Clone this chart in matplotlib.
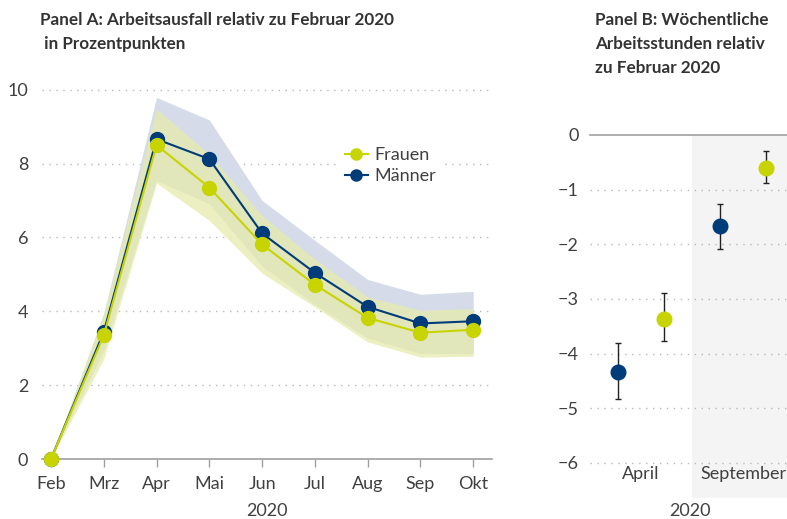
import matplotlib
matplotlib.use("Agg")
import matplotlib.pyplot as plt
import numpy as np

plt.rcParams['font.family'] = ['Lato', 'DejaVu Sans']

# Panel A data
months = ['Feb', 'Mrz', 'Apr', 'Mai', 'Jun', 'Jul', 'Aug', 'Sep', 'Okt']
frauen = [0.0, 3.35, 8.50, 7.35, 5.81, 4.72, 3.82, 3.42, 3.50]
frauen_lo = [0.0, 2.71, 7.47, 6.46, 5.03, 4.12, 3.17, 2.76, 2.78]
frauen_hi = [0.0, 3.95, 9.48, 8.25, 6.59, 5.41, 4.39, 4.03, 4.07]
maenner = [0.0, 3.44, 8.66, 8.12, 6.11, 5.04, 4.12, 3.67, 3.73]
maenner_lo = [0.0, 2.94, 7.53, 6.91, 5.22, 4.18, 3.27, 2.86, 2.85]
maenner_hi = [0.0, 3.94, 9.79, 9.18, 7.00, 5.92, 4.86, 4.46, 4.54]

# Panel B data
groups = ['April', 'September']
b_maenner = [-4.33, -1.66]
b_maenner_lo = [-4.83, -2.09]
b_maenner_hi = [-3.81, -1.26]
b_frauen = [-3.37, -0.61]
b_frauen_lo = [-3.76, -0.88]
b_frauen_hi = [-2.90, -0.29]

YEL = '#c8d400'
NAVY = '#003b7a'
TXT = '#404040'
GRID = '#b8b8b8'
FS = 13
TFS = 12.3

fig = plt.figure(figsize=(7.87, 5.19), dpi=100)

# ---------- Panel A ----------
ax = fig.add_axes([0.0534, 0.1156, 0.572, 0.733])
x = np.arange(len(months))
ax.fill_between(x, maenner_lo, maenner_hi, color='#d5dbe8', lw=0, zorder=1)
ax.fill_between(x, frauen_lo, frauen_hi, color='#e6ecab', alpha=0.75, lw=0, zorder=2)
ax.plot(x, maenner, '-o', color=NAVY, lw=1.5, ms=10, label='Männer', zorder=4, clip_on=False)
ax.plot(x, frauen, '-o', color=YEL, lw=1.5, ms=10, label='Frauen', zorder=5, clip_on=False)

ax.set_xlim(-0.17, 8.36)
ax.set_ylim(0, 10.3)
ax.set_yticks([0, 2, 4, 6, 8, 10])
ax.set_xticks(x)
ax.set_xticklabels(months)
for s in ['top', 'right', 'left']:
    ax.spines[s].set_visible(False)
ax.spines['bottom'].set_color('#a0a0a0')
ax.spines['bottom'].set_linewidth(1.2)
ax.tick_params(axis='x', length=6, color='#a0a0a0', width=1, pad=6, labelsize=FS, labelcolor=TXT)
ax.tick_params(axis='y', length=0, pad=10, labelsize=FS, labelcolor=TXT)
for v in [2, 4, 6, 8, 10]:
    ax.axhline(v, color=GRID, lw=1, ls=(0, (1, 4)), zorder=0)

h, l = ax.get_legend_handles_labels()
leg = ax.legend(h[::-1], l[::-1], loc='upper left', bbox_to_anchor=(0.64, 0.857),
                frameon=True, fontsize=FS, handlelength=1.3, handletextpad=0.35,
                borderpad=0.3, labelspacing=0.25, labelcolor=TXT, markerscale=0.8)
leg.get_frame().set_facecolor('white')
leg.get_frame().set_edgecolor('none')
leg.get_frame().set_alpha(1)

ax.annotate('2020', xy=(0.5, 0), xycoords='axes fraction', xytext=(0, -37.5),
            textcoords='offset points', ha='center', va='center', fontsize=FS, color=TXT)

fig.text(40 / 787, 1 - 12 / 519, 'Panel A: Arbeitsausfall relativ zu Februar 2020\n in Prozentpunkten',
         ha='left', va='top', fontsize=TFS, fontweight='bold', color='#333333', linespacing=1.62)

# ---------- Panel B ----------
bx = fig.add_axes([590 / 787, 0.0405, 204 / 787, 0.6995])
bx.axvspan(0.5, 1.5, color='#f4f4f4', lw=0, zorder=0)
g = np.arange(len(groups))
off = 0.225
bx.errorbar(g - off, b_maenner,
            yerr=[np.array(b_maenner) - np.array(b_maenner_lo), np.array(b_maenner_hi) - np.array(b_maenner)],
            fmt='o', color=NAVY, ms=10.5, ecolor='#222222', elinewidth=1, capsize=2.5, capthick=1, zorder=3)
bx.errorbar(g + off, b_frauen,
            yerr=[np.array(b_frauen) - np.array(b_frauen_lo), np.array(b_frauen_hi) - np.array(b_frauen)],
            fmt='o', color=YEL, ms=10.5, ecolor='#222222', elinewidth=1, capsize=2.5, capthick=1, zorder=3)
bx.set_xlim(-0.5, 1.5)
bx.set_ylim(-6.64, 0)
bx.set_yticks([0, -1, -2, -3, -4, -5, -6])
bx.set_yticklabels(['0', '−1', '−2', '−3', '−4', '−5', '−6'])
bx.set_xticks(g)
bx.set_xticklabels(groups)
for s in bx.spines.values():
    s.set_visible(False)
bx.axhline(0, color='#a0a0a0', lw=1.2, zorder=1, clip_on=False)
for v in [-1, -2, -3, -4, -5, -6]:
    bx.axhline(v, color=GRID, lw=1, ls=(0, (1, 4)), zorder=1)
bx.tick_params(axis='x', length=0, pad=-23, labelsize=FS, labelcolor=TXT)
bx.tick_params(axis='y', length=0, pad=8, labelsize=FS, labelcolor=TXT)
bx.annotate('2020', xy=(0.5, 0), xycoords='axes fraction', xytext=(-1.5, -9.5),
            textcoords='offset points', ha='center', va='center', fontsize=FS, color=TXT)

fig.text(595 / 787, 1 - 12 / 519, 'Panel B: Wöchentliche\nArbeitsstunden relativ\nzu Februar 2020',
         ha='left', va='top', fontsize=TFS, fontweight='bold', color='#333333', linespacing=1.62)

fig.savefig('out.png', dpi=100)
